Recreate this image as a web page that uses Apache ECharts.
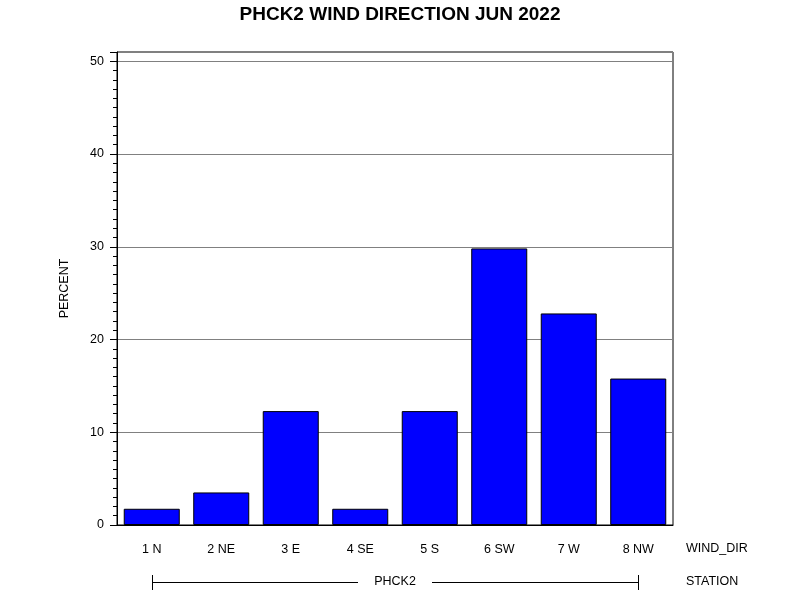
<!DOCTYPE html>
<html>
<head>
<meta charset="utf-8">
<script src="https://cdn.jsdelivr.net/npm/echarts@6/dist/echarts.min.js"></script>
<style>html,body{margin:0;padding:0;background:#fff}#c{width:800px;height:600px}</style>
</head>
<body>
<div id="c"></div>
<script>
const categories = ['1 N', '2 NE', '3 E', '4 SE', '5 S', '6 SW', '7 W', '8 NW'];
const percentValues = [1.75, 3.51, 12.28, 1.75, 12.28, 29.82, 22.81, 15.79];
const yTicks = [0, 10, 20, 30, 40, 50];
const stationName = 'PHCK2';
const titleText = 'PHCK2 WIND DIRECTION JUN 2022';

const FONT = 'Liberation Sans, Arial, sans-serif';
const FS = 12.5;
const chart = echarts.init(document.getElementById('c'), null, {renderer: 'canvas'});
const option = {
  backgroundColor: '#ffffff',
  animation: false,
  title: {
    text: titleText, left: 'center', top: 0,
    textStyle: {fontFamily: FONT, fontSize: 19, fontWeight: 'bold', color: '#000'}
  },
  grid: {left: 117, right: 127, top: 52, bottom: 75, show: true, borderColor: '#000', borderWidth: 1, backgroundColor: 'transparent'},
  xAxis: {
    type: 'category', data: categories,
    axisLine: {lineStyle: {color: '#000', width: 1}},
    axisTick: {show: false},
    axisLabel: {color: '#000', fontFamily: FONT, fontSize: FS, margin: 18}
  },
  yAxis: {
    type: 'value', min: 0, max: 51, interval: 10,
    name: 'PERCENT', nameLocation: 'middle', nameGap: 46, nameRotate: 90,
    nameTextStyle: {color: '#000', fontFamily: FONT, fontSize: FS},
    axisLine: {show: true, lineStyle: {color: '#000'}},
    axisTick: {show: true, length: 7, lineStyle: {color: '#000'}},
    minorTick: {show: true, splitNumber: 10, length: 4, lineStyle: {color: '#000'}},
    axisLabel: {color: '#000', fontFamily: FONT, fontSize: FS, margin: 13, showMaxLabel: false,
      formatter: v => yTicks.includes(v) ? String(v) : ''},
    splitLine: {show: true, lineStyle: {color: '#808080', width: 1}}
  },
  series: [{
    type: 'bar', data: percentValues, barCategoryGap: '19.4%',
    itemStyle: {color: '#0000ff', borderColor: '#000', borderWidth: 1}
  }]
};
chart.setOption(option);

const x0 = chart.convertToPixel({xAxisIndex: 0}, categories[0]);
const x1 = chart.convertToPixel({xAxisIndex: 0}, categories[categories.length - 1]);
const axisY = chart.convertToPixel({yAxisIndex: 0}, 0);
const labelY = axisY + 24;
const stY = axisY + 57;
const midX = (x0 + x1) / 2;
const gapHalf = 37;
chart.setOption({
  graphic: [
    {type: 'text', x: 686, y: labelY, style: {text: 'WIND_DIR', font: FS + 'px ' + FONT, fill: '#000', verticalAlign: 'middle'}},
    {type: 'text', x: 686, y: stY, style: {text: 'STATION', font: FS + 'px ' + FONT, fill: '#000', verticalAlign: 'middle'}},
    {type: 'text', x: midX, y: stY, style: {text: stationName, font: FS + 'px ' + FONT, fill: '#000', align: 'center', verticalAlign: 'middle'}},
    {type: 'line', shape: {x1: Math.round(x0) + 0.5, y1: Math.round(stY) + 0.5, x2: midX - gapHalf, y2: Math.round(stY) + 0.5}, style: {stroke: '#000', lineWidth: 1}},
    {type: 'line', shape: {x1: midX + gapHalf, y1: Math.round(stY) + 0.5, x2: Math.round(x1) + 0.5, y2: Math.round(stY) + 0.5}, style: {stroke: '#000', lineWidth: 1}},
    {type: 'line', shape: {x1: Math.round(x0) + 0.5, y1: stY - 7, x2: Math.round(x0) + 0.5, y2: stY + 8}, style: {stroke: '#000', lineWidth: 1}},
    {type: 'line', shape: {x1: Math.round(x1) + 0.5, y1: stY - 7, x2: Math.round(x1) + 0.5, y2: stY + 8}, style: {stroke: '#000', lineWidth: 1}}
  ]
});
</script>
</body>
</html>
